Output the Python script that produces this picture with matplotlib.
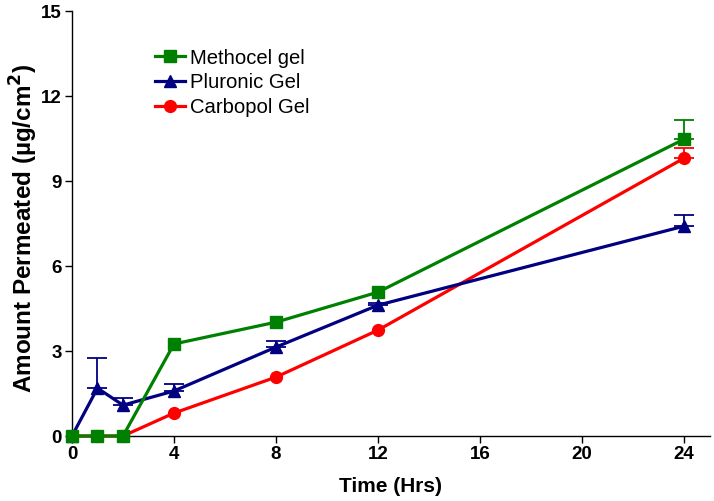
import numpy as np
import matplotlib.pyplot as plt

plt.rcParams['font.family'] = ['Liberation Sans', 'DejaVu Sans']

# Sampling times (hours)
time_h = [0, 1, 2, 4, 8, 12, 24]

# Cumulative amount permeated (ug/cm2) and SD (upper bars only)
methocel = [0, 0, 0, 3.25, 4.02, 5.08, 10.48]
methocel_sd = [0, 0, 0, 0.0, 0.0, 0.0, 0.67]
pluronic = [0, 1.69, 1.09, 1.59, 3.14, 4.62, 7.41]
pluronic_sd = [0, 1.06, 0.25, 0.24, 0.20, 0.08, 0.39]
carbopol = [0, 0, 0, 0.81, 2.08, 3.74, 9.81]
carbopol_sd = [0, 0, 0, 0.0, 0.0, 0.0, 0.36]

xticks = [0, 4, 8, 12, 16, 20, 24]
yticks = [0, 3, 6, 9, 12, 15]

fig = plt.figure(figsize=(7.14, 5.01), dpi=100)
ax = fig.add_axes([0.1008, 0.1297, 0.893, 0.848])

series = [
    ('Methocel gel', methocel, methocel_sd, '#008000', 's', 5),
    ('Pluronic Gel', pluronic, pluronic_sd, '#000080', '^', 4),
    ('Carbopol Gel', carbopol, carbopol_sd, '#ff0000', 'o', 3),
]
t = np.array(time_h)
for name, y, sd, col, mk, z in series:
    y = np.array(y)
    sd = np.array(sd)
    ax.plot(t, y, color=col, marker=mk, markersize=8.5, lw=2.3,
            label=name, zorder=z, clip_on=False)
    # upper error bars only where an SD exists
    m = sd > 0
    ax.errorbar(t[m], y[m], yerr=[np.zeros(m.sum()), sd[m]], fmt='none',
                ecolor=col, elinewidth=1.3, capsize=7, capthick=1.3,
                zorder=z - 0.5, clip_on=False)

ax.set_xlim(0, 25)
ax.set_ylim(0, 15)
ax.set_xticks(xticks)
ax.set_yticks(yticks)
ax.spines['top'].set_visible(False)
ax.spines['right'].set_visible(False)
for s in ('left', 'bottom'):
    ax.spines[s].set_linewidth(1.0)
ax.tick_params(direction='out', length=5, width=1.0, labelsize=13.5, pad=2.5)
for lbl in ax.get_xticklabels() + ax.get_yticklabels():
    lbl.set_fontweight('bold')

ax.set_xlabel('Time (Hrs)', fontsize=15, fontweight='bold', labelpad=10)
ax.set_ylabel('Amount Permeated (\u00b5g/cm$^\\mathbf{2}$)', fontsize=17.5,
              fontweight='bold')
ax.yaxis.set_label_coords(-0.05, 0.49)

ax.legend(loc='upper left', bbox_to_anchor=(0.13, 0.912), frameon=False,
          fontsize=14.6, handlelength=1.5, handletextpad=0.25, labelspacing=0.28,
          borderaxespad=0, borderpad=0)

fig.savefig('out.png', dpi=100)
